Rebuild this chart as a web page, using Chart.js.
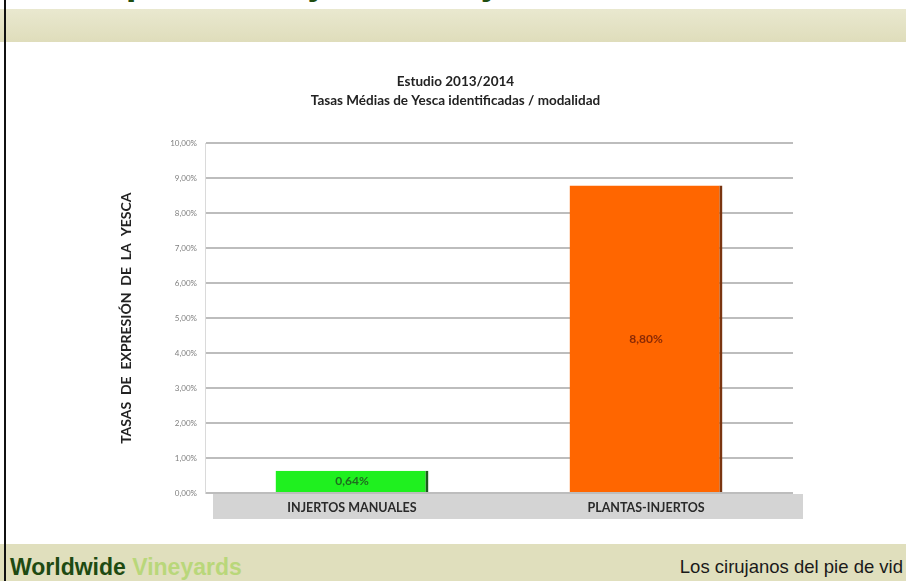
<!DOCTYPE html>
<html>
<head>
<meta charset="utf-8">
<script src="https://cdn.jsdelivr.net/npm/chart.js@4/dist/chart.umd.min.js"></script>
<style>
  html, body { margin:0; padding:0; background:#ffffff; }
  #page { position:relative; width:906px; height:581px; overflow:hidden; background:#ffffff; }
  #slideTitle { position:absolute; left:0; width:906px; top:-39px; text-align:center;
    font-family:"Liberation Sans", Arial, sans-serif; font-weight:bold; font-size:39px; line-height:39px;
    color:#1f4d10; white-space:nowrap; z-index:1; }
  #topBand { position:absolute; left:0; top:9px; width:906px; height:33px;
    background:linear-gradient(#e9e8cf, #dfddbb); z-index:2; }
  #footBand { position:absolute; left:0; top:544px; width:906px; height:37px; background:#e0dfbd; z-index:2; }
  #brand { position:absolute; left:10px; top:554px; font-family:"Liberation Sans", Arial, sans-serif;
    font-weight:bold; font-size:23px; color:#1e4a12; z-index:3; white-space:nowrap; }
  #brand span { color:#b9d77a; }
  #motto { position:absolute; right:3px; top:556px; font-family:"Liberation Sans", Arial, sans-serif;
    font-size:18.5px; color:#1a1a1a; z-index:3; white-space:nowrap; }
  #leftLine { position:absolute; left:4px; top:0; width:2px; height:581px; background:#111; z-index:4; }
  #chartBox { position:absolute; left:0; top:40px; width:906px; height:505px; z-index:1; }
</style>
</head>
<body>
<div id="page">
  <div id="slideTitle">plantas-injertos / injertos manuales</div>
  <div id="topBand"></div>
  <div id="chartBox"><canvas id="c" width="906" height="505"></canvas></div>
  <div id="footBand"></div>
  <div id="brand">Worldwide <span>Vineyards</span></div>
  <div id="motto">Los cirujanos del pie de vid</div>
  <div id="leftLine"></div>
</div>
<script>
const categories = ['INJERTOS MANUALES', 'PLANTAS-INJERTOS'];
const tasas = [0.64, 8.80];
const barColors = ['#1ff01f', '#ff6600'];
const edgeColors = ['#1d5a1d', '#7a3510'];
const labelColors = ['#1f6b1f', '#8a2a05'];
const titleLines = ['Estudio 2013/2014', 'Tasas Médias de Yesca identificadas / modalidad'];
const yAxisTitle = 'TASAS  DE  EXPRESIÓN  DE  LA  YESCA';

const fmt = v => v.toFixed(2).replace('.', ',') + '%';

const bandPlugin = {
  id: 'catBand',
  beforeDraw(chart) {
    const { ctx, chartArea: a } = chart;
    ctx.save();
    ctx.fillStyle = '#d4d4d4';
    ctx.fillRect(a.left + 8, a.bottom + 1, (a.right - a.left) + 2, 25);
    ctx.restore();
  }
};

const valueLabels = {
  id: 'valueLabels',
  afterDatasetsDraw(chart) {
    const { ctx } = chart;
    const meta = chart.getDatasetMeta(0);
    ctx.save();
    ctx.font = 'bold 12px Lato, "Liberation Sans", sans-serif';
    ctx.textAlign = 'center';
    ctx.textBaseline = 'middle';
    meta.data.forEach((el, i) => {
      ctx.fillStyle = labelColors[i];
      ctx.fillText(fmt(tasas[i]), el.x, (el.y + el.base) / 2);
    });
    ctx.restore();
  }
};

new Chart(document.getElementById('c'), {
  type: 'bar',
  data: {
    labels: categories,
    datasets: [{
      data: tasas,
      backgroundColor: barColors,
      borderColor: edgeColors,
      borderWidth: { top: 0, right: 3, bottom: 0, left: 0 },
      borderSkipped: false,
      categoryPercentage: 1,
      barPercentage: 0.52
    }]
  },
  plugins: [bandPlugin, valueLabels],
  options: {
    responsive: false,
    devicePixelRatio: 1,
    animation: false,
    layout: { padding: { left: 118, right: 113, top: 0, bottom: 27 } },
    plugins: {
      legend: { display: false },
      tooltip: { enabled: false },
      title: {
        display: true,
        text: titleLines,
        color: '#222222',
        font: { family: 'Lato, "Liberation Sans", sans-serif', size: 13.5, weight: 'bold', lineHeight: 1.35 },
        padding: { top: 33, bottom: 34 }
      }
    },
    scales: {
      x: {
        grid: { display: false, drawTicks: false },
        border: { display: false },
        ticks: {
          color: '#2a2a2a',
          padding: 7,
          font: { family: 'Lato, "Liberation Sans", sans-serif', size: 12.5, weight: 'bold' }
        },
        afterFit(scale) { scale.height = 25; }
      },
      y: {
        min: 0,
        max: 10,
        ticks: {
          stepSize: 1,
          color: '#808080',
          padding: 8,
          font: { family: 'Lato, "Liberation Sans", sans-serif', size: 8 },
          callback: v => fmt(v)
        },
        grid: { color: '#bdbdbd', lineWidth: 2, drawTicks: false },
        border: { display: true, color: '#dadada', width: 1 },
        title: {
          display: true,
          text: yAxisTitle,
          color: '#222222',
          padding: 0,
          font: { family: 'Lato, "Liberation Sans", sans-serif', size: 14, weight: 'bold', lineHeight: 1.2 }
        },
        afterFit(scale) { scale.width = 87; }
      }
    }
  }
});
</script>
</body>
</html>
